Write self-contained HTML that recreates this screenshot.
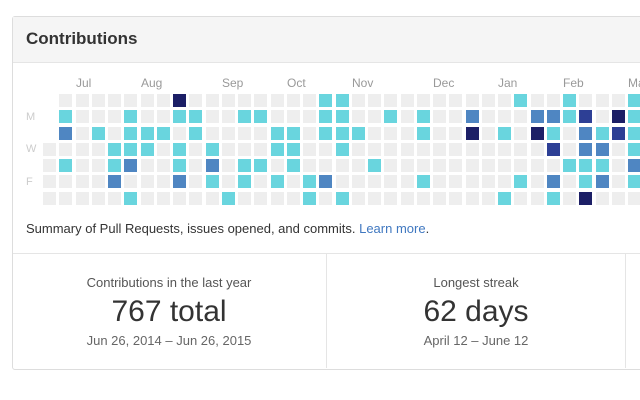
<!DOCTYPE html>
<html><head><meta charset="utf-8"><style>
body{margin:0;width:640px;height:400px;background:#fff;font-family:"Liberation Sans",sans-serif;position:relative;overflow:hidden}
.box{position:absolute;left:12px;top:16px;width:700px;height:352px;border:1px solid #ddd;border-radius:3px}
.hdr{position:absolute;left:0;top:0;right:0;height:45px;background:#f5f5f5;border-bottom:1px solid #e5e5e5}
.hdr span{position:absolute;left:13px;top:12px;font-weight:bold;font-size:17px;color:#333}
.t{position:absolute;white-space:nowrap}
.m{font-size:12px;color:#999;top:76px}
.d{font-size:11px;color:#ccc;left:26px}
.c{position:absolute;width:13px;height:13px;background:#eee}
.sum{left:26px;top:221px;font-size:13px;color:#333}
.sum a{color:#4078c0;text-decoration:none}
.line{position:absolute;background:#e5e5e5}
.st{text-align:center;width:300px}
</style></head><body>
<div class="box"><div class="hdr"><span>Contributions</span></div></div>
<div class="t m" style="left:76px">Jul</div>
<div class="t m" style="left:141px">Aug</div>
<div class="t m" style="left:222px">Sep</div>
<div class="t m" style="left:287px">Oct</div>
<div class="t m" style="left:352px">Nov</div>
<div class="t m" style="left:433px">Dec</div>
<div class="t m" style="left:498px">Jan</div>
<div class="t m" style="left:563px">Feb</div>
<div class="t m" style="left:628px">Mar</div>
<div class="t d" style="top:111px">M</div>
<div class="t d" style="top:143px">W</div>
<div class="t d" style="top:176px">F</div>
<div id="g"></div>
<div class="t sum">Summary of Pull Requests, issues opened, and commits. <a>Learn more</a>.</div>
<div class="line" style="left:13px;top:253px;width:627px;height:1px"></div>
<div class="line" style="left:326px;top:254px;width:1px;height:114px"></div>
<div class="line" style="left:625px;top:254px;width:1px;height:114px"></div>
<div class="t st" style="left:19px;top:275px;font-size:13px;color:#555">Contributions in the last year</div>
<div class="t st" style="left:19px;top:295px;font-size:30px;color:#333">767 total</div>
<div class="t st" style="left:19px;top:333px;font-size:13px;color:#666">Jun 26, 2014 – Jun 26, 2015</div>
<div class="t st" style="left:326px;top:275px;font-size:13px;color:#555">Longest streak</div>
<div class="t st" style="left:326px;top:295px;font-size:30px;color:#333">62 days</div>
<div class="t st" style="left:326px;top:333px;font-size:13px;color:#666">April 12 – June 12</div>
<script>
var cols=["___0000","0120100","0000000","0010000","0001120","0111201","0011000","0010000","4101120","0110000","0001210","0000001",
"0100110","0100100","0011010","0011100","0000011","1110020","1111001","0010000","0000100","0100000","0000000","0110010",
"0000000","0000000","0240000","0000000","0010001","1000010","0240000","0213021","1100100","0322114","0012120","0430000","1111210"];
var col={"0":"#eeeeee","1":"#69d5de","2":"#4f86c2","3":"#2d3f95","4":"#1c1f66"};
var h="";
for(var c=0;c<cols.length;c++){for(var r=0;r<7;r++){var v=cols[c][r];if(v=="_")continue;
var x=Math.round(43+16.25*c),y=Math.round(94+16.25*r);
h+='<div class="c" style="left:'+x+'px;top:'+y+'px;background:'+col[v]+'"></div>';}}
document.getElementById("g").innerHTML=h;
</script>
</body></html>
